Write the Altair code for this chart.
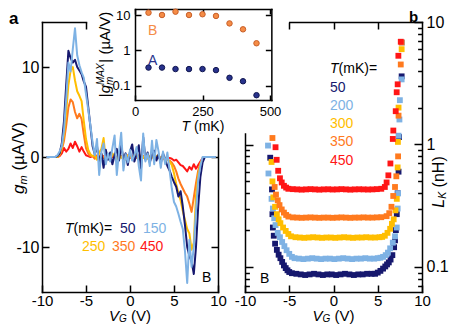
import altair as alt
import pandas as pd

FONT = "Liberation Sans"
W, H = 441, 316

# ---------------- panel a : g_m (uA/V) vs V_G (V) ----------------
vg_a = [-9.5, -8.5, -8.25, -8.0, -7.75, -7.5, -7.25, -7.0,
        -6.75, -6.5, -6.25, -6.0, -5.75, -5.5, -5.25, -5.0,
        -4.75, -4.5, -4.25, -4.0, -3.75, -3.5, -3.25, -3.0,
        -2.75, -2.5, -2.25, -2.0, -1.75, -1.5, -1.25, -1.0,
        -0.75, -0.5, -0.25, 0.0, 0.25, 0.5, 0.75, 1.0,
        1.25, 1.5, 1.75, 2.0, 2.25, 2.5, 2.75, 3.0,
        3.25, 3.5, 3.75, 4.0, 4.25, 4.5, 4.75, 5.0,
        5.25, 5.5, 5.75, 6.0, 6.25, 6.5, 6.75, 7.0,
        7.25, 7.5, 7.75, 8.0, 8.25, 8.5, 8.75, 9.75]
gm_a_50 = [0, 0, 0.1, 0.4, 1.5, 4.0, 8.0, 11.8,
           11.0, 10.5, 10.8, 10.0, 9.6, 9.2, 8.4, 7.8,
           5.6, 3.4, 1.2, 0.3, 1.2, -0.6, 0.4, -1.2,
           0.8, -0.3, 0.5, -0.8, 0.2, 0.9, -0.4, 1.3,
           -0.2, 0.4, -0.9, 0.6, 1.4, -0.5, 0.3, 1.3,
           -1.3, 2.2, -0.3, 0.5, -0.6, 0.2, 0.7, -0.4,
           0.3, -0.7, 0.4, -0.3, -1.0, -1.5, -2.2, -2.8,
           -3.3, -4.4, -3.8, -5.5, -7.6, -10.0, -11.0, -11.6,
           -13.0, -10.0, -5.5, -2.2, -0.6, 0, 0, 0]
gm_a_150 = [0, 0, 0.2, 0.6, 1.2, 3.0, 6.5, 10.5,
            9.5, 12.0, 14.3, 11.3, 10.2, 9.4, 8.8, 7.0,
            5.3, 3.5, 1.6, 0.2, 2.0, -2.0, 0.6, 1.5,
            -0.8, 0.4, -0.5, 1.0, 2.4, -2.0, 0.5, 2.7,
            -1.5, 0.3, -0.6, 0.8, -0.4, 0.2, 1.1, -1.0,
            -2.6, 2.6, -0.5, 0.4, -1.0, 1.8, -0.8, 1.9,
            0.6, -1.2, 0.6, -0.8, 0.5, -1.5, -3.5, -5.0,
            -5.5, -6.3, -7.2, -8.0, -10.5, -14.0, -9.2, -12.2,
            -10.0, -6.0, -2.5, -1.0, 0, 0, 0, 0]
gm_a_250 = [0, 0, 0, 0.3, 1.0, 2.5, 5.0, 8.0,
            9.6, 10.0, 8.5, 7.3, 6.8, 6.2, 4.0, 2.0,
            0.8, 0.3, 0.1, 0.2, -0.3, 0.5, 0.9, 2.1,
            -0.4, 0.3, -0.2, 0.4, 0.1, -0.3, 0.4, -0.1,
            0.2, -0.3, 0.1, 0.3, -0.2, 0.1, 0.4, -0.3,
            0.2, -0.1, 0.3, -0.2, 0.1, 0.2, -0.3, 0.1,
            0.2, -0.2, 0.1, -0.1, -0.3, -0.5, -0.9, -1.8,
            -3.0, -4.0, -4.8, -6.0, -7.0, -8.0, -8.5, -10.3,
            -9.5, -4.3, -2.0, -0.8, -0.2, 0, 0, 0]
gm_a_350 = [0, 0, 0, 0.2, 0.8, 1.8, 3.5, 5.5,
            6.4, 6.1, 5.0, 4.3, 4.8, 4.2, 2.5, 1.0,
            0.4, 0.1, 0.1, -0.2, 0.2, 0.0, 0.3, -0.1,
            0.2, 0.0, -0.2, 0.1, 0.2, -0.1, 0.1, 0.0,
            -0.2, 0.1, 0.2, -0.1, 0.0, 0.1, -0.1, 0.2,
            0.0, -0.1, 0.1, 0.0, -0.1, 0.1, -0.2, 0.0,
            -0.1, -0.2, -0.2, -0.3, -0.3, -0.4, -0.6, -1.0,
            -1.6, -2.4, -3.0, -3.5, -4.0, -4.4, -5.2, -6.1,
            -4.5, -2.9, -1.5, -0.7, -0.2, 0, 0, 0]
gm_a_450 = [0, 0, 0, 0.1, 0.4, 1.0, 0.6, 0.9,
            1.5, 1.0, 1.7, 1.2, 0.6, 1.1, 0.6, 0.2,
            0.1, 0.0, 0.1, 0.0, 0.1, -0.1, 0.0, 0.1,
            0.0, 0.1, -0.1, 0.0, 0.1, 0.0, -0.1, 0.1,
            0.0, 0.0, 0.1, -0.1, 0.0, 0.1, 0.0, -0.1,
            0.0, 0.1, 0.0, -0.1, 0.0, 0.0, 0.1, -0.1,
            0.0, -0.1, 0.0, -0.1, -0.1, -0.1, -0.2, -0.4,
            -0.3, -0.6, -0.9, -1.0, -1.3, -1.6, -1.1, -1.4,
            -0.8, -1.3, -0.9, -0.5, -0.1, 0, 0, 0]

# ---------------- inset : |g_m^MAX| vs T ----------------
t_inset = [50, 100, 150, 200, 250, 300, 350, 400, 450]
gmax_B = [11.6, 10.0, 12.4, 10.0, 10.5, 9.4, 5.8, 3.95, 1.6]
gmax_A = [0.33, 0.33, 0.30, 0.30, 0.30, 0.28, 0.17, 0.136, 0.055]

# ---------------- panel b : L_K (nH) vs V_G (V) ----------------
vg_b50 = [-7.15, -6.95, -6.9, -6.85, -6.75, -6.6, -6.4, -6.2, -6.0, -5.8, -5.6, -5.4, -5.2, -5.0, -4.7,
          -4.2, -3.7, -3.2, -2.7, -2.2, -1.7, -1.2, -0.7, -0.2, 0.3, 0.8, 1.3, 1.8, 2.3, 2.8, 3.3, 3.8, 4.3, 4.7,
          5.0, 5.3, 5.6, 5.85, 6.05, 6.25, 6.45, 6.65, 6.85, 6.95, 7.05, 7.15, 7.25, 7.35, 7.4, 7.7]
lk_b50 = [0.78, 0.43, 0.27, 0.21, 0.18, 0.155, 0.138, 0.126, 0.118, 0.11, 0.103, 0.098, 0.094, 0.091, 0.089,
          0.088, 0.087, 0.086, 0.087, 0.088, 0.087, 0.086, 0.087, 0.087, 0.086, 0.087, 0.088, 0.087, 0.086, 0.087, 0.087, 0.088, 0.088, 0.088,
          0.09, 0.093, 0.097, 0.101, 0.105, 0.109, 0.115, 0.125, 0.145, 0.165, 0.2, 0.27, 0.4, 0.6, 1.15, 3.6]
vg_b200 = [-7.4, -7.35, -7.0, -6.85, -6.7, -6.55, -6.3, -6.05, -5.8, -5.55, -5.3, -5.0, -4.7, -4.4,
           -3.9, -3.4, -2.9, -2.4, -1.9, -1.4, -0.9, -0.4, 0.1, 0.6, 1.1, 1.6, 2.1, 2.6, 3.1, 3.6, 4.1, 4.6,
           5.0, 5.3, 5.6, 5.9, 6.15, 6.4, 6.7, 6.95, 7.15, 7.25, 7.3, 7.35, 7.45, 7.5, 7.7, 7.75]
lk_b200 = [0.98, 0.58, 0.36, 0.3, 0.25, 0.22, 0.19, 0.175, 0.16, 0.148, 0.137, 0.128, 0.121, 0.118,
           0.117, 0.116, 0.117, 0.118, 0.117, 0.116, 0.117, 0.117, 0.116, 0.117, 0.118, 0.117, 0.116, 0.117, 0.117, 0.118, 0.117, 0.117,
           0.118, 0.119, 0.121, 0.125, 0.131, 0.142, 0.158, 0.178, 0.21, 0.3, 0.4, 1.18, 1.6, 2.3, 3.4, 6.8]
vg_b300 = [-7.0, -6.9, -6.8, -6.6, -6.4, -6.2, -6.0, -5.7, -5.4, -5.1, -4.8,
           -4.3, -3.8, -3.3, -2.8, -2.3, -1.8, -1.3, -0.8, -0.3, 0.2, 0.7, 1.2, 1.7, 2.2, 2.7, 3.2, 3.7, 4.2, 4.7, 5.2,
           5.5, 5.8, 6.1, 6.4, 6.6, 6.8, 7.0, 7.15, 7.25, 7.28, 7.35, 7.7]
lk_b300 = [0.72, 0.5, 0.37, 0.31, 0.27, 0.245, 0.228, 0.21, 0.197, 0.186, 0.178,
           0.175, 0.174, 0.173, 0.174, 0.175, 0.174, 0.173, 0.174, 0.174, 0.173, 0.174, 0.175, 0.174, 0.173, 0.174, 0.174, 0.175, 0.174, 0.174, 0.175,
           0.176, 0.18, 0.19, 0.205, 0.225, 0.245, 0.29, 0.36, 0.65, 1.05, 2.0, 6.0]
vg_b350 = [-6.9, -6.65, -6.5, -6.3, -6.1, -5.85, -5.6, -5.35, -5.1,
           -4.6, -4.1, -3.6, -3.1, -2.6, -2.1, -1.6, -1.1, -0.6, -0.1, 0.4, 0.9, 1.4, 1.9, 2.4, 2.9, 3.4, 3.9, 4.4, 4.9, 5.4,
           6.0, 6.3, 6.55, 6.75, 6.95, 7.1, 7.3, 7.35, 7.6, 7.7]
lk_b350 = [1.13, 0.45, 0.39, 0.35, 0.32, 0.295, 0.278, 0.266, 0.258,
           0.254, 0.253, 0.252, 0.253, 0.254, 0.253, 0.252, 0.253, 0.253, 0.252, 0.253, 0.254, 0.253, 0.252, 0.253, 0.253, 0.254, 0.253, 0.253, 0.254, 0.255,
           0.26, 0.275, 0.31, 0.38, 0.45, 0.55, 0.8, 1.72, 4.5, 6.8]
vg_b450 = [-6.55, -6.42, -6.25, -6.05, -5.85, -5.6, -5.35, -5.1,
           -4.6, -4.1, -3.6, -3.1, -2.6, -2.1, -1.6, -1.1, -0.6, -0.1, 0.4, 0.9, 1.4, 1.9, 2.4, 2.9, 3.4, 3.9, 4.4, 4.9, 5.4,
           5.8, 6.0, 6.2, 6.43, 6.7, 6.76, 7.03, 7.14, 7.25, 7.33, 7.6]
lk_b450 = [0.95, 0.75, 0.61, 0.53, 0.49, 0.46, 0.445, 0.435,
           0.432, 0.43, 0.428, 0.43, 0.432, 0.43, 0.428, 0.43, 0.431, 0.429, 0.43, 0.432, 0.43, 0.428, 0.43, 0.431, 0.43, 0.429, 0.43, 0.432, 0.435,
           0.45, 0.49, 0.56, 0.7, 1.11, 1.3, 1.87, 2.67, 3.1, 5.3, 6.9]

temps_a = ["50", "150", "250", "350", "450"]
temps_b = ["50", "200", "300", "350", "450"]

# ---------------- tick values ----------------
ticks_vg = [-10, -5, 0, 5, 10]
ticks_gm = [-10, 0, 10]
ticks_T = [0, 250, 500]
ticks_log = [0.1, 1, 10]
ticks_log_minor = [0.07, 0.08, 0.09, 0.1, 0.2, 0.3, 0.4, 0.5, 0.6, 0.7, 0.8, 0.9,
                   1, 2, 3, 4, 5, 6, 7, 8, 9, 10]

# ---------------- text ----------------
txt_T = "T"
txt_mK = "(mK)="
txt_mK_inset = "(mK)"
txt_uAV = "(µA/V)"
txt_V = "(V)"
txt_nH = "(nH)"

NAVY, LBLUE, GOLD, ORANGE, RED = "#16186e", "#7eb2e4", "#ffbe00", "#ff7a1e", "#ff1616"
cols_a = [NAVY, LBLUE, GOLD, ORANGE, RED]
cols_b = [NAVY, LBLUE, GOLD, ORANGE, RED]

MAJOR = "abs(log(datum.value)/LN10 - round(log(datum.value)/LN10)) < 0.001"
LABEL_EXPR = "datum.value < 0 ? '-' + abs(datum.value) : '' + datum.value"


def lin(domain, rng):
    return alt.Scale(type="linear", domain=domain, range=rng, nice=False, zero=False)


def lg(domain, rng):
    return alt.Scale(type="log", domain=domain, range=rng, nice=False)


def ax_ticks(orient, offset, values, size=7, minor=False):
    ts = {"condition": {"test": MAJOR, "value": size}, "value": round(size * 0.55, 1)} if minor else size
    return alt.Axis(orient=orient, offset=offset, values=values, labels=False, ticks=True,
                    tickSize=ts, tickColor="black", tickWidth=1.5, domain=True,
                    domainColor="black", domainWidth=1.5, domainCap="square",
                    grid=False, title=None)


def ax_labels(orient, offset, values, size, pad):
    return alt.Axis(orient=orient, offset=offset, values=values, labels=True, ticks=False,
                    tickSize=0, domain=False, grid=False, title=None, labelFont=FONT,
                    labelFontSize=size, labelColor="black", labelPadding=pad,
                    labelFlush=False, labelOverlap=False, labelExpr=LABEL_EXPR)


def axis_layer(xs, ys, xaxis, yaxis, xv, yv):
    df = pd.DataFrame({"x": [xv], "y": [yv]})
    return alt.Chart(df).mark_point(opacity=0).encode(
        x=alt.X("x:Q", scale=xs, axis=xaxis), y=alt.Y("y:Q", scale=ys, axis=yaxis))


def txt(s, x, y, size=14, color="black", style="normal", weight="normal", angle=0, dx=0, dy=0):
    return alt.Chart(pd.DataFrame({"s": [s]})).mark_text(
        font=FONT, fontSize=size, color=color, fontStyle=style, fontWeight=weight,
        angle=angle, align="left", baseline="alphabetic", dx=dx, dy=dy
    ).encode(x=alt.value(x), y=alt.value(y), text="s:N")


# scales (chart coordinates; page = chart + 8)
A_X = ([-10, 10], [34, 210])
A_Y = ([-15, 15], [284, 14])
A_XT = ([-10, -5], [34, 78])
A_YR = ([-15, 2.1], [284, 130.1])
I_X = ([0, 505], [127, 263.35])
I_Y = ([0.0403, 14.76], [92, 1])
B_X = ([-10, 10], [237, 414])
B_Y = ([0.0625, 10], [284, 14])
B_XT = ([-5, 10], [281.25, 414])
B_YL = ([0.0625, 1.23], [284, 125.5])

layers = []

# ---- panel a lines ----
df_a = pd.DataFrame({"VG": vg_a, "g50": gm_a_50, "g150": gm_a_150, "g250": gm_a_250,
                     "g350": gm_a_350, "g450": gm_a_450})
for col, c in [("g450", RED), ("g350", ORANGE), ("g250", GOLD), ("g50", NAVY), ("g150", LBLUE)]:
    layers.append(alt.Chart(df_a).mark_line(color=c, strokeWidth=2, strokeJoin="round").encode(
        x=alt.X("VG:Q", scale=lin(*A_X), axis=None),
        y=alt.Y(f"{col}:Q", scale=lin(*A_Y), axis=None)))

# panel a axes
layers.append(axis_layer(lin(*A_X), lin(*A_Y),
                         ax_labels("bottom", 284 - H, ticks_vg, 15, 1),
                         ax_labels("left", -34, ticks_gm, 16, 3), 0, 0))
layers.append(axis_layer(lin(*A_X), lin(*A_Y),
                         ax_ticks("top", -284, ticks_vg),
                         ax_ticks("right", 34 - W, ticks_gm), 0, 0))
layers.append(axis_layer(lin(*A_XT), lin(*A_YR),
                         ax_ticks("bottom", 14 - H, [-5]),
                         ax_ticks("left", -210, [-10, 0]), -7, 0))

# ---- panel b squares ----
rows = []
for t, vs, ls in zip(temps_b, [vg_b50, vg_b200, vg_b300, vg_b350, vg_b450],
                     [lk_b50, lk_b200, lk_b300, lk_b350, lk_b450]):
    for v, l in zip(vs, ls):
        rows.append({"T": t, "VG": v, "LK": l})
df_b = pd.DataFrame(rows)
layers.append(alt.Chart(df_b).mark_square(size=34, opacity=1).encode(
    x=alt.X("VG:Q", scale=lin(*B_X), axis=None),
    y=alt.Y("LK:Q", scale=lg(*B_Y), axis=None),
    color=alt.Color("T:N", scale=alt.Scale(domain=temps_b, range=cols_b), legend=None)))

# panel b axes
layers.append(axis_layer(lin(*B_X), lg(*B_Y),
                         ax_labels("bottom", 284 - H, ticks_vg, 15, 1),
                         ax_labels("right", 414 - W, ticks_log, 16, 4), 0, 1))
layers.append(axis_layer(lin(*B_X), lg(*B_Y),
                         ax_ticks("top", -284, ticks_vg),
                         ax_ticks("left", -414, ticks_log_minor, 8, True), 0, 1))
layers.append(axis_layer(lin(*B_XT), lg(*B_YL),
                         ax_ticks("bottom", 14 - H, [-5, 0, 5]),
                         ax_ticks("right", 237 - W, ticks_log_minor[:13], 8, True), 0, 0.5))

# ---- inset ----
df_i = pd.DataFrame({"T": t_inset, "B": gmax_B, "A": gmax_A})
layers.append(alt.Chart(df_i).mark_point(shape="circle", filled=True, size=30, opacity=1,
                                         fill="#f58c46", stroke="#c8602a", strokeWidth=1).encode(
    x=alt.X("T:Q", scale=lin(*I_X), axis=None), y=alt.Y("B:Q", scale=lg(*I_Y), axis=None)))
layers.append(alt.Chart(df_i).mark_point(shape="circle", filled=True, size=30, opacity=1,
                                         fill="#28328c", stroke="#101650", strokeWidth=1).encode(
    x=alt.X("T:Q", scale=lin(*I_X), axis=None), y=alt.Y("A:Q", scale=lg(*I_Y), axis=None)))
layers.append(axis_layer(lin(*I_X), lg(*I_Y),
                         ax_labels("bottom", 92 - H, ticks_T, 13, 5),
                         ax_labels("left", -127, ticks_log, 13, 5), 100, 1))
layers.append(axis_layer(lin(*I_X), lg(*I_Y),
                         ax_ticks("top", -92, ticks_T, 5),
                         ax_ticks("right", 127 - W, ticks_log, 6), 100, 1))
layers.append(axis_layer(lin(*I_X), lg(*I_Y),
                         ax_ticks("bottom", 1 - H, ticks_T, 5),
                         ax_ticks("left", -263.35, ticks_log, 6), 100, 1))

# ---- text ----
# panel letters
layers.append(txt("a", 1, 15.5, 17, weight="bold"))
layers.append(txt("b", 401, 13.7, 15, weight="bold"))
# panel a y title
layers.append(txt("g", 15.5, 186, 17, style="italic", angle=270))
layers.append(txt("m", 15.5, 186, 11, style="italic", angle=270, dx=9.5, dy=3.5))
layers.append(txt(txt_uAV, 15.5, 186, 17, angle=270, dx=23.4))
# x titles
for x0 in (101, 304.5):
    layers.append(txt("V", x0, 313.2, 15, style="italic"))
    layers.append(txt("G", x0, 313.2, 10, style="italic", dx=10.0, dy=1))
    layers.append(txt(txt_V, x0, 313.2, 15, dx=22.0))
# panel b y title
layers.append(txt("L", 435.5, 199.7, 16, style="italic", angle=270))
layers.append(txt("K", 435.5, 199.7, 10.5, style="italic", angle=270, dx=8.9, dy=2.8))
layers.append(txt(txt_nH, 435.5, 199.7, 16, angle=270, dx=20.3))
# inset titles
layers.append(txt("|", 102, 89.2, 15, angle=270))
layers.append(txt("g", 102, 89.2, 15, style="italic", angle=270, dx=3.9))
layers.append(txt("m", 102, 89.2, 10, style="italic", angle=270, dx=12.2, dy=3))
layers.append(txt("MAX", 102, 89.2, 10, style="italic", angle=270, dx=12.2, dy=-6))
layers.append(txt("|", 102, 89.2, 15, angle=270, dx=34.5))
layers.append(txt(txt_uAV, 102, 89.2, 15, angle=270, dx=42.6))
layers.append(txt(txt_T, 173.6, 123, 14, style="italic"))
layers.append(txt(txt_mK_inset, 173.6, 123, 14, dx=12.45))
layers.append(txt("B", 140, 27, 14, color="#f58c46"))
layers.append(txt("A", 140, 57, 14, color="#28328c"))
# panel a legend
layers.append(txt(txt_T, 57, 225, 14, style="italic"))
layers.append(txt(txt_mK, 57, 225, 14, dx=8.6))
for s, x, y, c in zip(temps_a, [112, 135, 74, 104, 132], [225, 225, 243, 243, 243], cols_a):
    layers.append(txt(s, x, y, 14, color=c))
layers.append(txt("B", 194, 274, 14))
# panel b legend
layers.append(txt(txt_T, 322, 65, 14, style="italic"))
layers.append(txt(txt_mK, 322, 65, 14, dx=8.6))
for s, y, c in zip(temps_b, [83.5, 101.8, 120.1, 138.4, 156.7], cols_b):
    layers.append(txt(s, 322, y, 14, color=c))
layers.append(txt("B", 252, 275, 14))

chart = alt.layer(*layers).resolve_scale(
    x="independent", y="independent"
).resolve_axis(
    x="independent", y="independent"
).properties(
    width=W, height=H, padding=0,
    autosize=alt.AutoSizeParams(type="none"), background="white"
).configure_view(stroke="transparent")

chart.save("out.html", embed_options={"renderer": "svg", "actions": False})
